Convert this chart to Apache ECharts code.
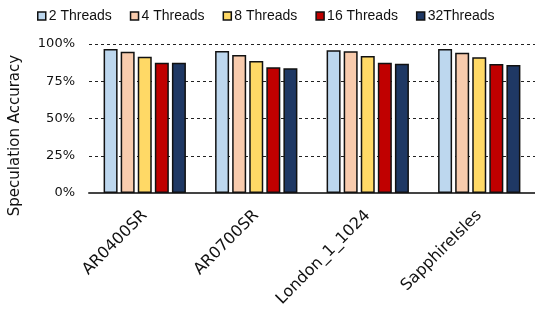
<!DOCTYPE html>
<html>
<head>
<meta charset="utf-8">
<script src="https://cdn.jsdelivr.net/npm/echarts@6/dist/echarts.min.js"></script>
<style>
  html, body { margin: 0; padding: 0; background: #fff; }
  #chart { width: 535px; height: 316px; }
</style>
</head>
<body>
<div id="chart"></div>
<script>
// data
var categories = ['AR0400SR', 'AR0700SR', 'London_1_1024', 'SapphireIsles'];
var seriesNames = ['2 Threads', '4 Threads', '8 Threads', '16 Threads', '32Threads'];
var threads2  = [96.6, 95.3, 95.8, 96.6];
var threads4  = [94.8, 92.6, 95.1, 94.2];
var threads8  = [91.5, 88.6, 91.9, 91.1];
var threads16 = [87.5, 84.4, 87.5, 86.6];
var threads32 = [87.5, 83.7, 86.8, 85.9];
var yTicks = [0, 25, 50, 75, 100];

var colors = ['#BDD7EE', '#F8CBAD', '#FFD966', '#C00000', '#1F3864'];
var allData = [threads2, threads4, threads8, threads16, threads32];
var font = 'DejaVu Sans';

var myChart = echarts.init(document.getElementById('chart'));
var series = allData.map(function (d, i) {
    return {
        name: seriesNames[i],
        type: 'bar',
        barWidth: 14,
        barGap: '22%',
        data: d,
        itemStyle: {
            color: colors[i],
            borderColor: '#111',
            borderWidth: 1.5
        }
    };
});

var option = {
    animation: false,
    color: colors,
    legend: {//图例
        top: 4,
        left: 32,
        itemWidth: 8,
        itemHeight: 8,
        itemGap: 18,
        icon: 'rect',
        textStyle: { fontFamily: 'Liberation Sans', fontSize: 14, color: '#111', padding: [0, 0, 0, -2] },
        itemStyle: { borderColor: '#111', borderWidth: 1.5 },
        data: seriesNames
    },
    grid: {
        left: 87,
        right: 0,
        top: 44,
        bottom: 123
    },
    xAxis: {
        type: 'category',
        data: categories,
        axisLine: { lineStyle: { color: '#444', width: 2 } },
        axisTick: { show: false },
        axisLabel: {
            rotate: 45,
            interval: 0,
            margin: 20,
            fontFamily: font,
            fontSize: 16,
            color: '#111'
        }
    },
    yAxis: {
        type: 'value',
        min: yTicks[0],
        max: yTicks[yTicks.length - 1],
        interval: 25,
        name: 'Speculation Accuracy',
        nameLocation: 'middle',
        nameGap: 66,
        nameTextStyle: { fontFamily: font, fontSize: 15, color: '#111', padding: [0, 34, 0, 0] },
        axisLine: { show: false },
        axisTick: { show: false },
        axisLabel: {
            fontFamily: font,
            fontSize: 13,
            color: '#111',
            margin: 14,
            formatter: '{value}%'
        },
        splitLine: { lineStyle: { color: '#222', type: [3, 3], width: 1 } }
    },
    series: series
};
myChart.setOption(option);
</script>
</body>
</html>
